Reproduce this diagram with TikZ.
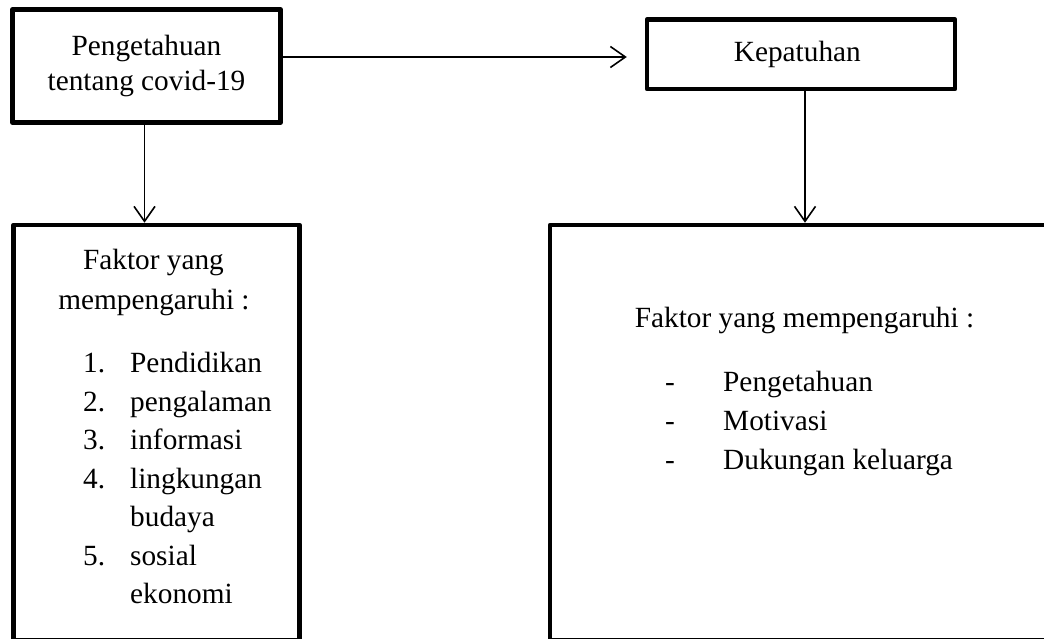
\documentclass[tikz,border=0pt]{standalone}
\usepackage{fontspec}
\setmainfont{Liberation Serif}
\usetikzlibrary{arrows.meta,positioning,calc}
\definecolor{ink}{RGB}{0,0,0}
\tikzset{
  box/.style={draw=ink,line width=4.5pt,line join=round,inner sep=0pt,align=center},
  arrow/.style={-{Straight Barb[length=15pt,width=21pt]},line width=1.6pt,draw=ink},
  txt/.style={font=\fontsize{29.3}{35}\selectfont,text=ink,inner sep=0pt}
}

\begin{document}
\begin{tikzpicture}[x=1pt,y=-1pt]
  \useasboundingbox (0,0) rectangle (1044,639);
  \clip (0,0) rectangle (1044,639);

  % top row
  \node[box,txt,minimum width=268pt,minimum height=113pt] (pengetahuan) at (146.5,66) {
    Pengetahuan\\
    tentang covid-19
  };
  \node[box,txt,minimum width=308pt,minimum height=69.5pt] (kepatuhan) at (801,54.2) {
    Kepatuhan
  };

  % bottom row (cut by the page edge)
  \node[box,minimum width=286pt,minimum height=415.5pt] (faktorkiri) at (156.5,432.75) {};
  \node[box,minimum width=520pt,minimum height=415.5pt] (faktorkanan) at (810,432.75) {};

  % left list
  \node[txt,anchor=base] (judulkiri1) at (153.5,269.5) {Faktor yang};
  \node[txt,anchor=base] (judulkiri2) at (154,309) {mempengaruhi :};
  \foreach \num/\entry [count=\k] in {1./Pendidikan,2./pengalaman,3./informasi,4./lingkungan,/budaya,5./sosial,/ekonomi}{
    \node[txt,anchor=base west] (nomor\k) at (83,{334+38.5*\k}) {\num};
    \node[txt,anchor=base west] (butir\k) at (130,{334+38.5*\k}) {\entry};
  }

  % right list
  \node[txt,anchor=base] (judulkanan) at (804.5,327.5) {Faktor yang mempengaruhi :};
  \foreach \entry [count=\k] in {Pengetahuan,Motivasi,Dukungan keluarga}{
    \node[txt,anchor=base] (strip\k) at (670,{352.5+39*\k}) {-};
    \node[txt,anchor=base west] (faktor\k) at (723,{352.5+39*\k}) {\entry};
  }

  \draw[arrow] ($(pengetahuan.east)+(0,-9)$) -- ($(pengetahuan.east -| kepatuhan.west)+(-18,-9)$);
  \draw[arrow] ($(pengetahuan.south)+(-2,0)$) -- ($(pengetahuan.south |- faktorkiri.north)+(-2,0)$);
  \draw[arrow] ($(kepatuhan.south)+(4,0)$) -- ($(kepatuhan.south |- faktorkanan.north)+(4,0)$);
\end{tikzpicture}
\end{document}
